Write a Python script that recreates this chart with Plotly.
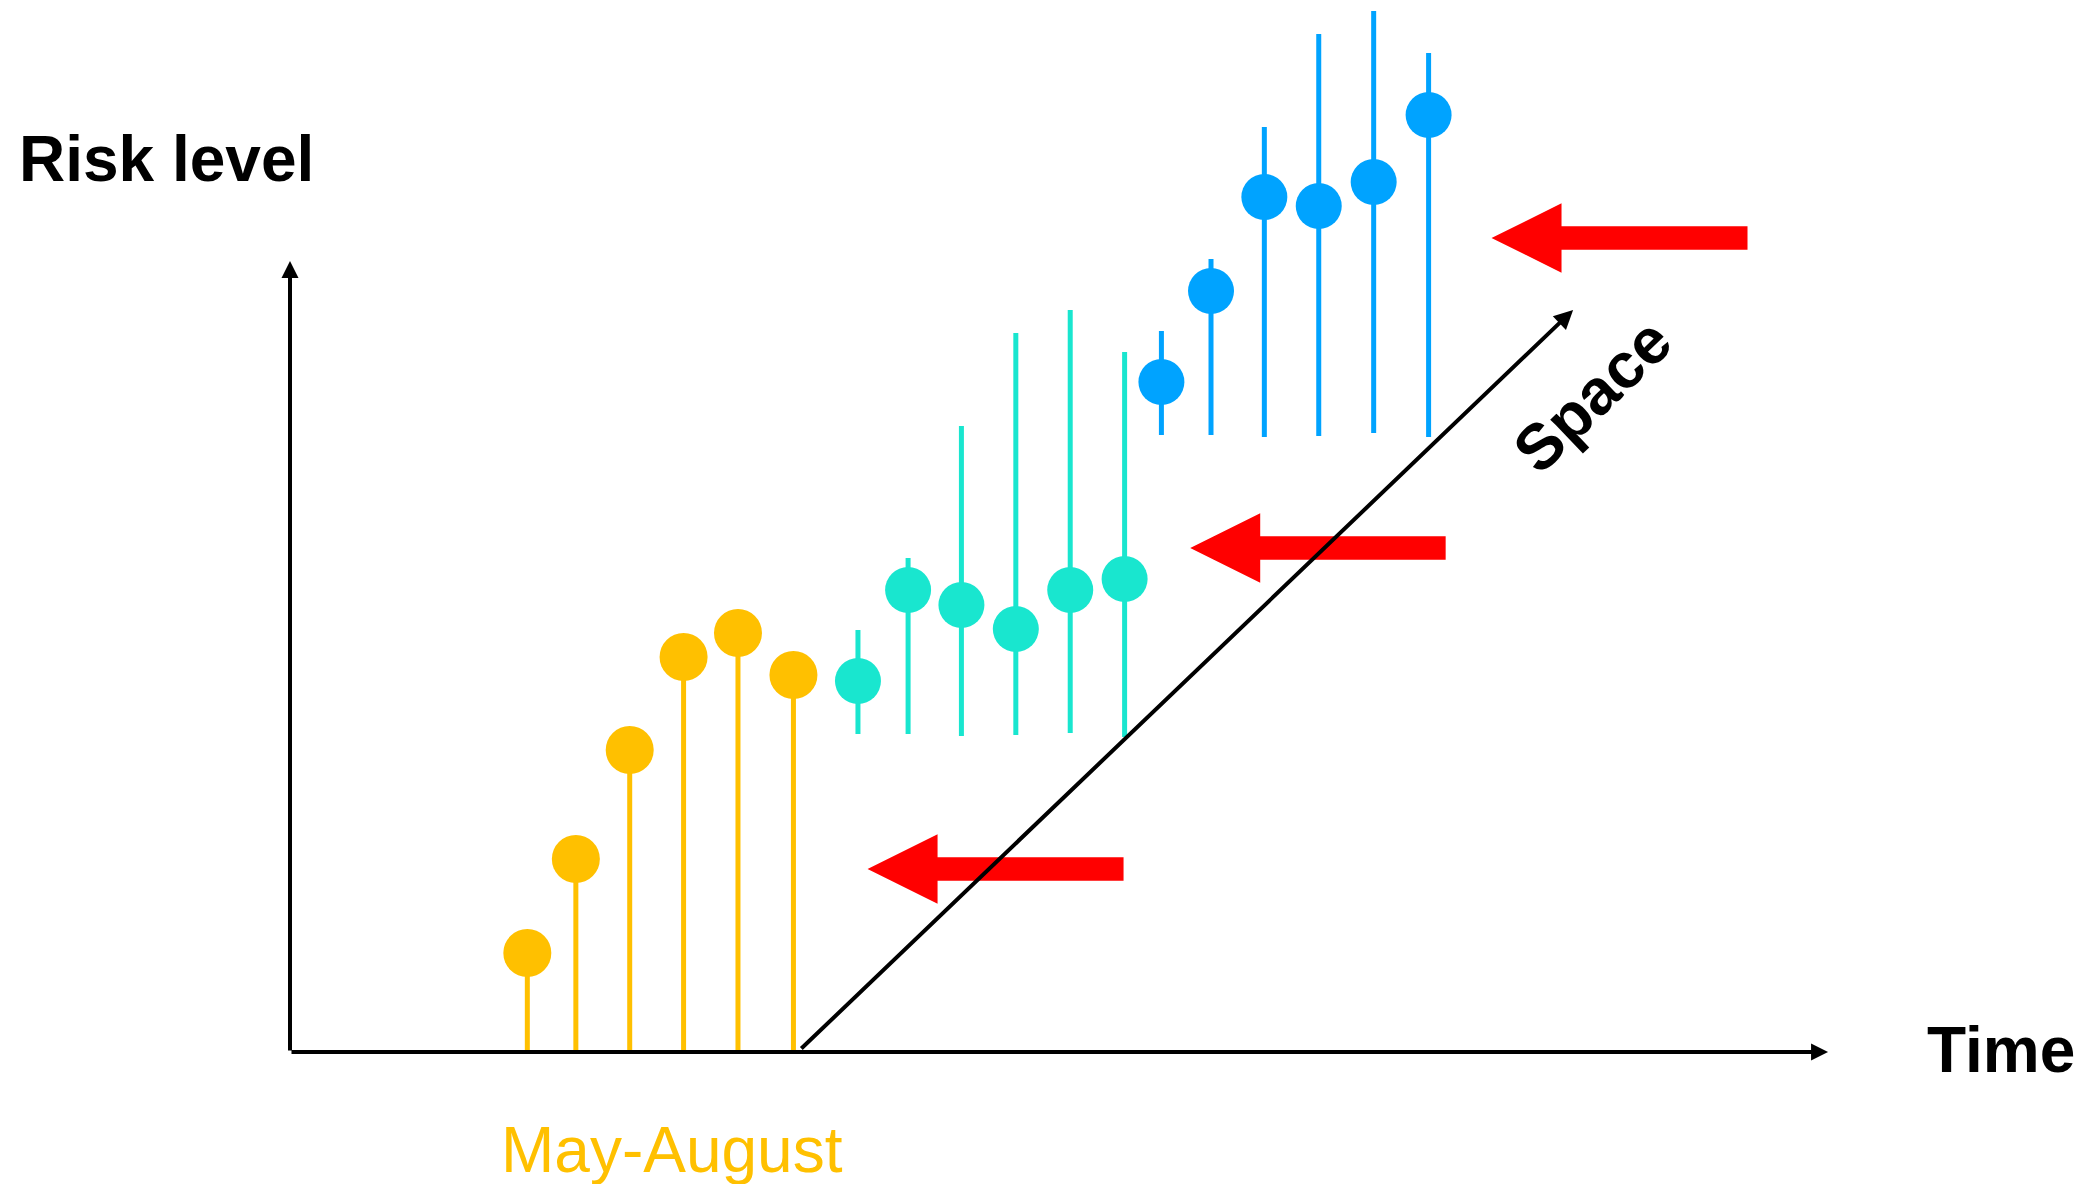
import plotly.graph_objects as go

# ---------------- data (time in months-index units, risk level in arbitrary units) ----------------
yellow_time = [4.45, 5.36, 6.37, 7.38, 8.40, 9.44]
yellow_risk = [0.99, 1.93, 3.02, 3.95, 4.19, 3.77]

cyan_time = [10.65, 11.59, 12.59, 13.61, 14.63, 15.65]
cyan_risk = [3.71, 4.62, 4.47, 4.23, 4.62, 4.73]
cyan_high = [4.22, 4.94, 6.26, 7.19, 7.42, 7.00]
cyan_low = [3.18, 3.18, 3.16, 3.17, 3.19, 3.15]

blue_time = [16.34, 17.27, 18.27, 19.29, 20.32, 21.35]
blue_risk = [6.70, 7.61, 8.55, 8.46, 8.70, 9.37]
blue_high = [7.21, 7.93, 9.25, 10.18, 10.41, 9.99]
blue_low = [6.17, 6.17, 6.15, 6.16, 6.19, 6.15]

# red "shift" arrows: tip time, tip risk, tail time
arrow_tip_time = [10.83, 16.88, 22.53]
arrow_tip_risk = [1.83, 5.04, 8.14]
arrow_tail_time = [15.63, 21.67, 27.33]

# axis extents
time_axis_end = 28.84
risk_axis_top = 7.91
space_start = (9.56, 0.02)
space_end = (24.06, 7.42)

# ---------------- layout geometry ----------------
W, H = 2088, 1184
X_UNIT_PX, Y_UNIT_PX = 53.33, 100.0
ORIGIN_PX = (290, 1052)
x_range = [-ORIGIN_PX[0] / X_UNIT_PX, (W - ORIGIN_PX[0]) / X_UNIT_PX]
y_range = [-(H - ORIGIN_PX[1]) / Y_UNIT_PX, ORIGIN_PX[1] / Y_UNIT_PX]

YELLOW = "#FFC000"
CYAN = "#19E6CF"
BLUE = "#00A3FF"
RED = "#FF0000"
FONT = "Liberation Sans, Arial, sans-serif"

fig = go.Figure()

# axes lines drawn as annotation arrows (below data)
fig.add_annotation(x=0, y=risk_axis_top, ax=0, ay=0, xref="x", yref="y", axref="x", ayref="y",
                   showarrow=True, arrowhead=2, arrowsize=0.85, arrowwidth=4, arrowcolor="black", text="")
fig.add_annotation(x=time_axis_end, y=0, ax=0, ay=0, xref="x", yref="y", axref="x", ayref="y",
                   showarrow=True, arrowhead=2, arrowsize=0.85, arrowwidth=4, arrowcolor="black", text="")
fig.add_annotation(x=space_end[0], y=space_end[1], ax=space_start[0], ay=space_start[1],
                   xref="x", yref="y", axref="x", ayref="y",
                   showarrow=True, arrowhead=2, arrowsize=0.95, arrowwidth=4, arrowcolor="black", text="")

# yellow stems from baseline
fig.add_trace(go.Scatter(
    x=yellow_time, y=yellow_risk, mode="markers",
    marker=dict(size=48, color=YELLOW),
    error_y=dict(type="data", symmetric=False, array=[0] * len(yellow_risk),
                 arrayminus=yellow_risk, width=0, thickness=5, color=YELLOW),
    showlegend=False, hoverinfo="skip"))

fig.add_trace(go.Scatter(
    x=cyan_time, y=cyan_risk, mode="markers",
    marker=dict(size=46, color=CYAN),
    error_y=dict(type="data", symmetric=False,
                 array=[h - r for h, r in zip(cyan_high, cyan_risk)],
                 arrayminus=[r - l for r, l in zip(cyan_risk, cyan_low)],
                 width=0, thickness=5, color=CYAN),
    showlegend=False, hoverinfo="skip"))

fig.add_trace(go.Scatter(
    x=blue_time, y=blue_risk, mode="markers",
    marker=dict(size=46, color=BLUE),
    error_y=dict(type="data", symmetric=False,
                 array=[h - r for h, r in zip(blue_high, blue_risk)],
                 arrayminus=[r - l for r, l in zip(blue_risk, blue_low)],
                 width=0, thickness=5, color=BLUE),
    showlegend=False, hoverinfo="skip"))

# red block arrows
HEAD_LEN = 70 / X_UNIT_PX
HEAD_HALF = 34.7 / Y_UNIT_PX
SHAFT_HALF = 11.8 / Y_UNIT_PX
for tx, ty, ex in zip(arrow_tip_time, arrow_tip_risk, arrow_tail_time):
    hb = tx + HEAD_LEN
    path = (f"M {tx},{ty} L {hb},{ty + HEAD_HALF} L {hb},{ty + SHAFT_HALF} L {ex},{ty + SHAFT_HALF} "
            f"L {ex},{ty - SHAFT_HALF} L {hb},{ty - SHAFT_HALF} L {hb},{ty - HEAD_HALF} Z")
    fig.add_shape(type="path", path=path, xref="x", yref="y", fillcolor=RED,
                  line=dict(width=0), layer="above")

# texts
fig.add_annotation(x=-5.11, y=8.93, xref="x", yref="y", text="<b>Risk level</b>", showarrow=False,
                   xanchor="left", yanchor="middle", font=dict(family=FONT, size=64, color="black"))
fig.add_annotation(x=30.65, y=0.023, xref="x", yref="y", text="<b>Time</b>", showarrow=False,
                   xanchor="left", yanchor="middle", font=dict(family=FONT, size=64, color="black"))
fig.add_annotation(x=7.16, y=-0.984, xref="x", yref="y", text="May-August", showarrow=False,
                   xanchor="center", yanchor="middle", font=dict(family=FONT, size=64, color=YELLOW))
fig.add_annotation(x=24.43, y=6.57, xref="x", yref="y", text="<b>Space</b>", showarrow=False,
                   textangle=-43.75, xanchor="center", yanchor="middle",
                   font=dict(family=FONT, size=64, color="black"))

fig.update_layout(
    width=W, height=H, margin=dict(l=0, r=0, t=0, b=0),
    paper_bgcolor="white", plot_bgcolor="white",
    xaxis=dict(range=x_range, visible=False, fixedrange=True),
    yaxis=dict(range=y_range, visible=False, fixedrange=True),
    showlegend=False,
)

fig.write_html("out.html", config={"displayModeBar": False},
               post_script="document.body.style.margin='0';document.body.style.overflow='hidden';")
